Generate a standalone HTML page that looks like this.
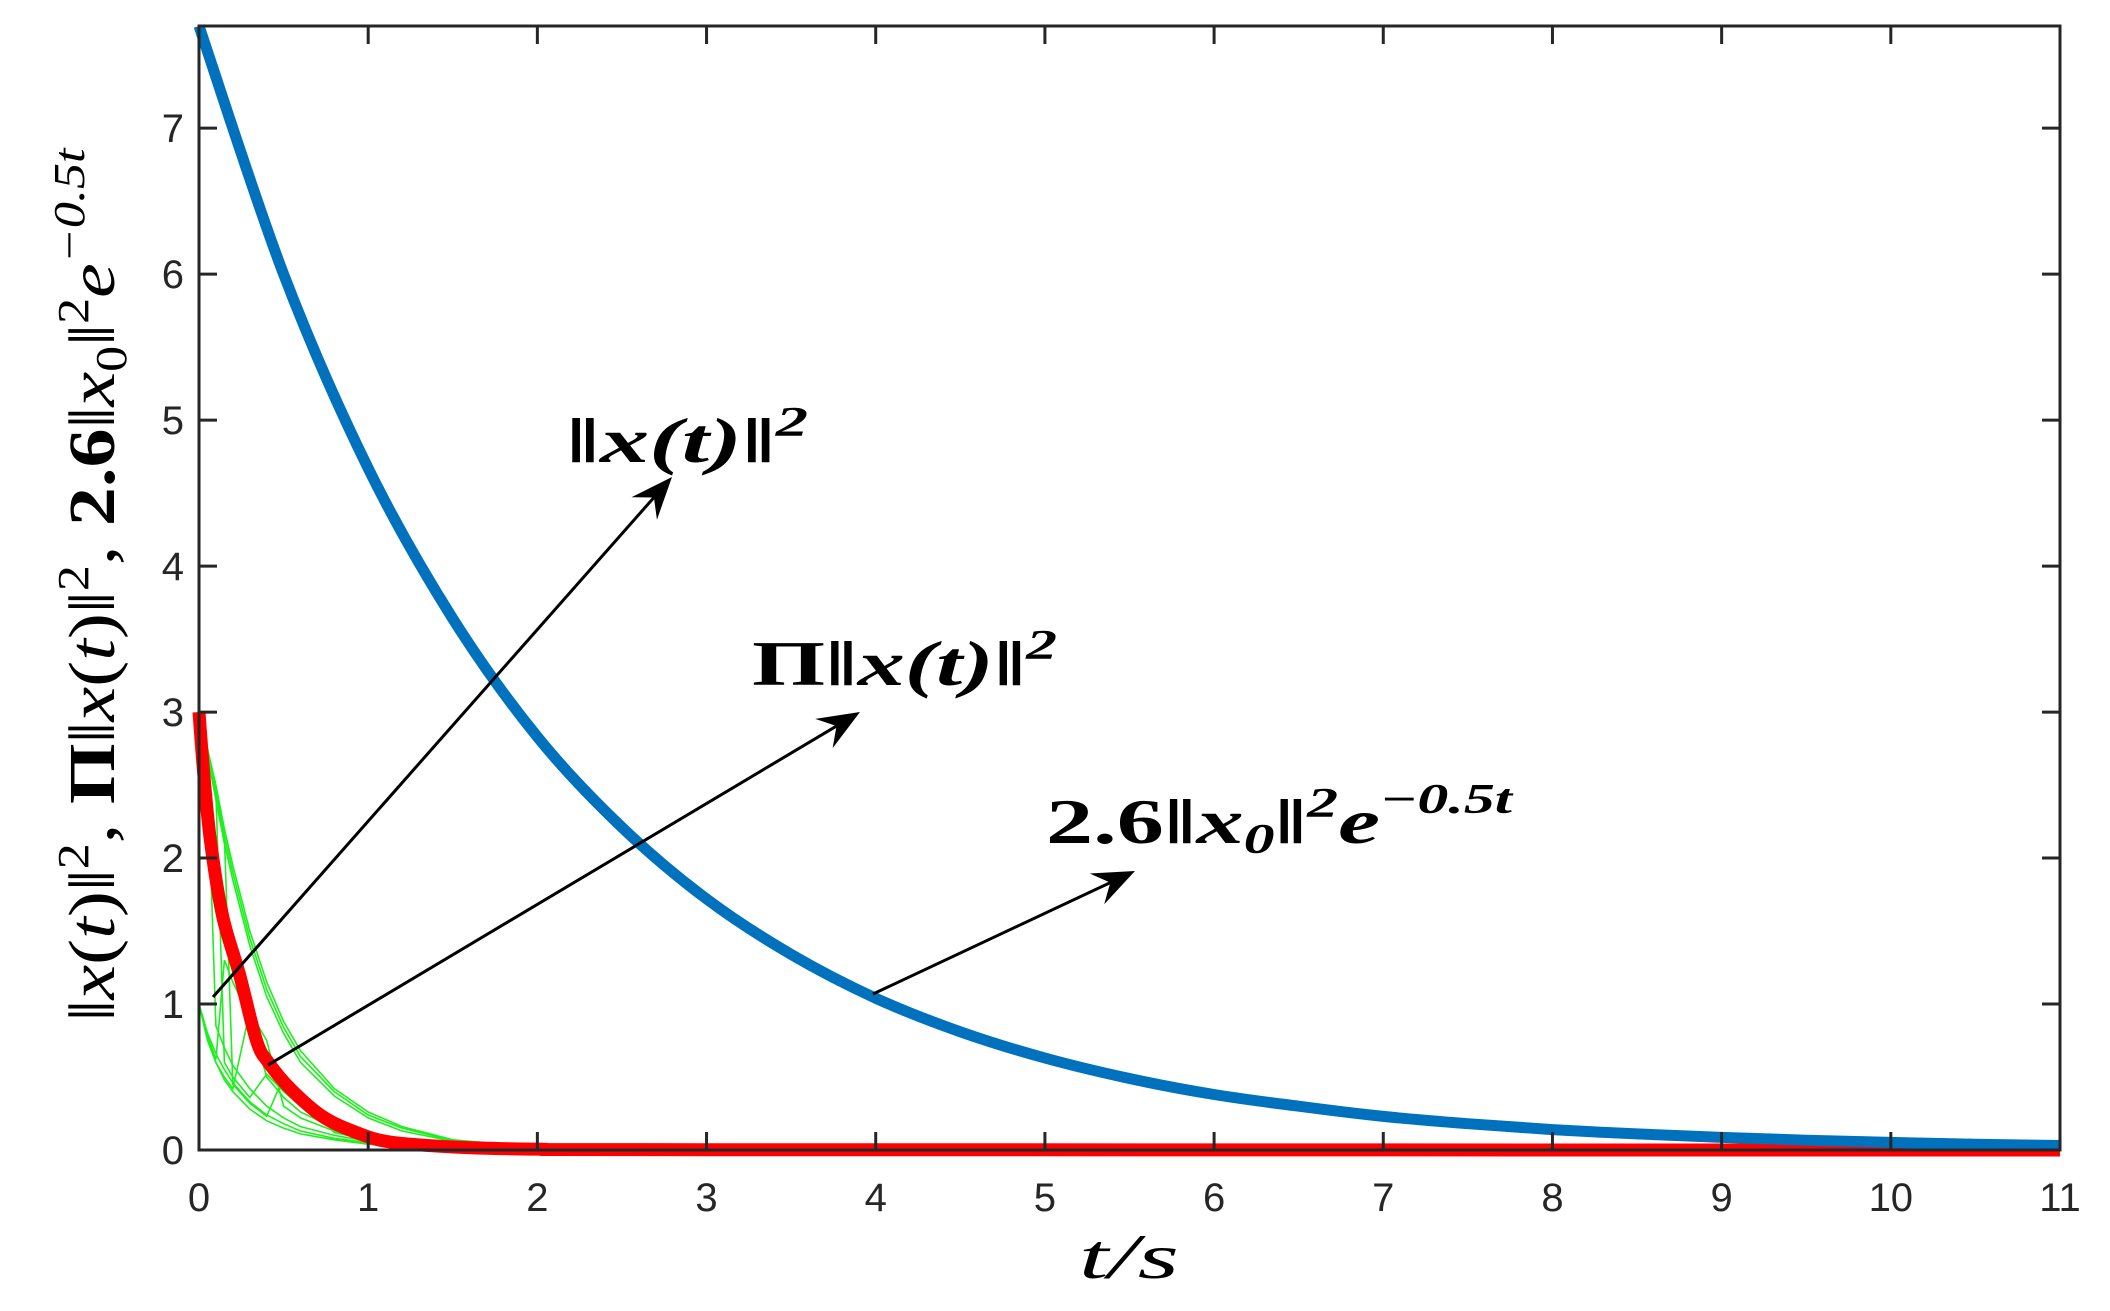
<!DOCTYPE html>
<html><head><meta charset="utf-8"><style>
html,body{margin:0;padding:0;background:#fff;position:relative;}
svg{display:block;}
.tk{font-family:"Liberation Sans",sans-serif;font-size:40px;fill:#262626;}
.m{font-family:"Liberation Serif",serif;font-weight:bold;font-style:italic;fill:#000;}
</style></head><body>
<svg id="chart" width="2110" height="1311" viewBox="0 0 2110 1311" xmlns="http://www.w3.org/2000/svg">
<rect width="2110" height="1311" fill="#fff"/>
<g id="plot"></g>
<g id="axes"></g>
<g id="ann"></g>
<text x="1129" y="1278" text-anchor="middle" font-family="Liberation Serif, serif" font-style="italic" font-size="64" textLength="100" lengthAdjust="spacingAndGlyphs">t/s</text>
<text transform="translate(114,585) rotate(-90)" text-anchor="middle" font-family="Liberation Serif, serif" font-size="66" textLength="873" lengthAdjust="spacingAndGlyphs">‖<tspan font-style="italic">x</tspan>(<tspan font-style="italic">t</tspan>)‖<tspan dy="-26" font-size="44">2</tspan><tspan dy="26">, </tspan><tspan font-weight="bold">Π</tspan>‖<tspan font-style="italic">x</tspan>(<tspan font-style="italic">t</tspan>)‖<tspan dy="-26" font-size="44">2</tspan><tspan dy="26">, </tspan><tspan font-weight="bold">2.6</tspan>‖<tspan font-style="italic">x</tspan><tspan dy="12" font-size="44">0</tspan><tspan dy="-12">‖</tspan><tspan dy="-26" font-size="44">2</tspan><tspan dy="26" font-style="italic">e</tspan><tspan dy="-30" font-size="44" font-style="italic">−0.5t</tspan></text>
</svg>
<script>
const xTicks=[0,1,2,3,4,5,6,7,8,9,10,11];
const yTicks=[0,1,2,3,4,5,6,7];
const blueT=[0,0.5,1,1.5,2,2.5,3,3.5,4,4.5,5,5.5,6,6.5,7,7.5,8,8.5,9,9.5,10,10.5,11];
const blueV=[7.7,6.0,4.67,3.64,2.83,2.21,1.72,1.34,1.04,0.81,0.63,0.49,0.38,0.30,0.23,0.18,0.14,0.11,0.086,0.067,0.052,0.040,0.031];
const redT=[0,0.03,0.07,0.14,0.24,0.34,0.41,0.54,0.73,0.93,1.13,1.52,2,3,11];
const redV=[3,2.55,2.1,1.6,1.2,0.75,0.6,0.42,0.23,0.12,0.055,0.02,0.006,0.002,0];
const gT=[0,0.05,0.1,0.15,0.2,0.3,0.4,0.5,0.6,0.8,1.0,1.2,1.5,2.0,3,11];
const g1=[3,2.75,2.5,2.2,1.95,1.5,1.15,0.88,0.68,0.42,0.26,0.16,0.07,0.02,0.003,0];
const g2=[3,2.7,2.45,2.15,1.9,1.45,1.1,0.84,0.64,0.4,0.24,0.15,0.065,0.02,0.003,0];
const g3=[3,2.7,2.4,2.1,1.85,1.4,1.05,0.8,0.6,0.37,0.22,0.13,0.06,0.018,0.003,0];
const g4=[1,0.75,0.6,0.48,0.4,0.28,0.2,0.15,0.11,0.07,0.04,0.025,0.01,0.003,0,0];
const g5=[1,0.8,0.66,0.55,0.46,0.33,0.24,0.18,0.13,0.08,0.05,0.03,0.012,0.004,0,0];
const g6=[3,2.6,0.85,0.7,0.58,0.42,0.3,0.22,0.16,0.1,0.06,0.035,0.015,0.005,0,0];
const g7=[1,0.78,0.62,1.3,1.15,0.9,0.5,0.36,0.26,0.15,0.09,0.05,0.02,0.006,0,0];
const g8=[3,2.72,2.45,0.6,0.5,0.36,0.52,0.4,0.3,0.18,0.1,0.06,0.025,0.008,0,0];
const g9=[1,0.76,0.6,0.5,0.42,0.95,0.75,0.3,0.22,0.13,0.08,0.045,0.018,0.005,0,0];
const g10=[3,2.7,2.45,2.15,0.45,0.32,0.23,0.5,0.38,0.12,0.07,0.04,0.016,0.005,0,0];
const greens=[g1,g2,g3,g4,g5,g6,g7,g8,g9,g10];

const X0=199,X1=2060,Y0=1150,YT=26,XMAX=11,YMAX=7.7;
const sx=t=>X0+(X1-X0)*t/XMAX;
const sy=v=>Y0-(Y0-YT)*v/YMAX;
const NS='http://www.w3.org/2000/svg';
function mk(tag,attrs,parent){const e=document.createElementNS(NS,tag);for(const k in attrs)e.setAttribute(k,attrs[k]);parent.appendChild(e);return e;}
const plot=document.getElementById('plot'),axes=document.getElementById('axes'),ann=document.getElementById('ann');
function poly(ts,vs){return ts.map((t,i)=>(i?'L':'M')+sx(t).toFixed(1)+','+sy(vs[i]).toFixed(1)).join(' ');}
function smooth(ts,vs){const p=ts.map((t,i)=>[sx(t),sy(vs[i])]);let d='M'+p[0][0]+','+p[0][1];
for(let i=0;i<p.length-1;i++){const a=p[i-1]||p[i],b=p[i],c=p[i+1],e=p[i+2]||c;
d+=' C'+(b[0]+(c[0]-a[0])/6).toFixed(1)+','+(b[1]+(c[1]-a[1])/6).toFixed(1)+' '+(c[0]-(e[0]-b[0])/6).toFixed(1)+','+(c[1]-(e[1]-b[1])/6).toFixed(1)+' '+c[0].toFixed(1)+','+c[1].toFixed(1);}return d;}
greens.forEach((g,i)=>{const e=mk('path',{d:poly(gT,g),fill:'none',stroke:'#1fef1f','stroke-width':1.6},plot);

});
const red=mk('path',{d:smooth(redT,redV),fill:'none',stroke:'#ff0000','stroke-width':13,'stroke-linejoin':'round'},plot);


const blue=mk('path',{d:smooth(blueT,blueV),fill:'none',stroke:'#0072bd','stroke-width':11},plot);


const box=mk('rect',{x:X0,y:YT,width:X1-X0,height:Y0-YT,fill:'none',stroke:'#262626','stroke-width':3},axes);


xTicks.forEach(t=>{const x=sx(t);
mk('line',{x1:x,y1:Y0,x2:x,y2:Y0-18,stroke:'#262626','stroke-width':3},axes);
mk('line',{x1:x,y1:YT,x2:x,y2:YT+18,stroke:'#262626','stroke-width':3},axes);
const l=mk('text',{x:x,y:1211,'text-anchor':'middle',class:'tk'},axes);l.textContent=t;

});
yTicks.forEach(v=>{const y=sy(v);
mk('line',{x1:X0,y1:y,x2:X0+18,y2:y,stroke:'#262626','stroke-width':3},axes);
mk('line',{x1:X1,y1:y,x2:X1-18,y2:y,stroke:'#262626','stroke-width':3},axes);
const l=mk('text',{x:184,y:y+14,'text-anchor':'end',class:'tk'},axes);l.textContent=v;

});
function arrow(x1,y1,x2,y2,name){const g=mk('g',{},ann);


const dx=x2-x1,dy=y2-y1,L=Math.hypot(dx,dy),ux=dx/L,uy=dy/L,px=-uy,py=ux,hl=42,hw=17;
mk('line',{x1:x1,y1:y1,x2:x2-ux*hl*0.6,y2:y2-uy*hl*0.6,stroke:'#000','stroke-width':3},g);
const bx=x2-ux*hl,by=y2-uy*hl,nx=x2-ux*hl*0.65,ny=y2-uy*hl*0.65;
mk('path',{d:`M${x2},${y2} L${bx+px*hw},${by+py*hw} L${nx},${ny} L${bx-px*hw},${by-py*hw} Z`,fill:'#000'},g);}
arrow(213,997,672,477,'arrow-norm');
arrow(268,1065,860,712,'arrow-pi-norm');
arrow(873,994,1135,871,'arrow-bound');
</script>
<svg style="position:absolute;left:0;top:0" width="2110" height="1311">
<text x="566" y="462" class="m" font-size="64" textLength="242" lengthAdjust="spacingAndGlyphs">‖x(t)‖<tspan dy="-26" font-size="42">2</tspan></text>
<text x="752" y="685" class="m" font-size="64" textLength="305" lengthAdjust="spacingAndGlyphs"><tspan font-style="normal">Π</tspan>‖x(t)‖<tspan dy="-26" font-size="42">2</tspan></text>
<text x="1046" y="843" class="m" font-size="64" textLength="466" lengthAdjust="spacingAndGlyphs"><tspan font-style="normal">2.6</tspan>‖x<tspan dy="10" font-size="42">0</tspan><tspan dy="-10">‖</tspan><tspan dy="-26" font-size="42">2</tspan><tspan dy="26">e</tspan><tspan dy="-30" font-size="42">−0.5t</tspan></text>
</svg>
</body></html>
